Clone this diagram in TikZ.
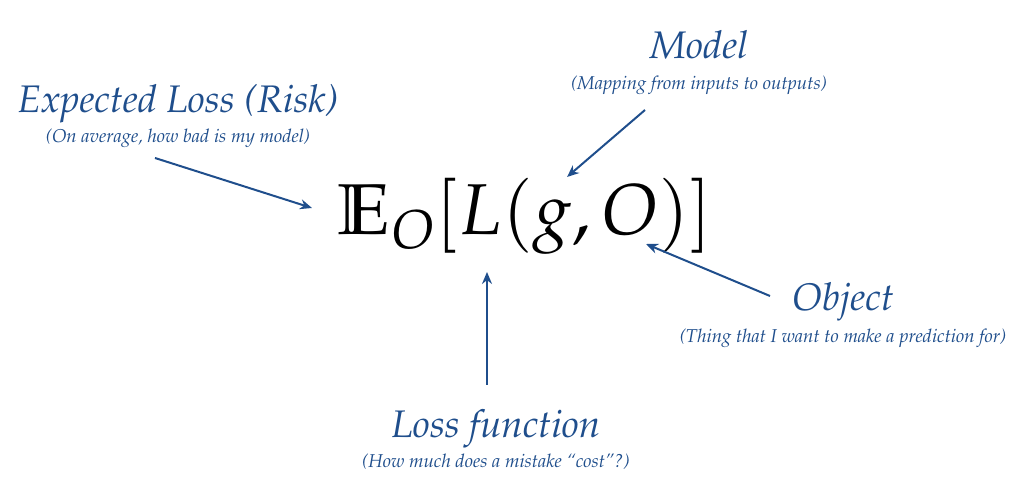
\documentclass[tikz,border=0pt]{standalone}
\usepackage[T1]{fontenc}
\usepackage{amsmath,amssymb}
\usepackage{mathpazo}
\usepackage{tikz}
\usetikzlibrary{positioning,arrows.meta}
\definecolor{annot}{RGB}{31,78,140}

\begin{document}
\begin{tikzpicture}[
  x=0.5pt, y=0.5pt,
  >={Stealth[length=6pt,width=5pt]},
  head/.style={text=annot, anchor=base, inner sep=0pt, font=\fontsize{19.2}{22}\selectfont\itshape},
  note/.style={text=annot, anchor=base, inner sep=0pt, font=\fontsize{9.3}{11}\selectfont\itshape},
  arr/.style={->, draw=annot, line width=1pt}
]
  \useasboundingbox (0,0) rectangle (1024,486);

  % Formule
  \node[anchor=base, inner sep=0pt, font=\fontsize{36}{40}\selectfont] (F) at (525,251) {$\mathbb{E}_O[L(g,O)]$};

  % Annotations
  \node[head] (EL) at (178,373) {Expected Loss (Risk)};
  \node[note] (ELn) at (178,343) {(On average, how bad is my model)};
  \node[head] (M) at (699,427) {Model};
  \node[note] (Mn) at (699,396) {(Mapping from inputs to outputs)};
  \node[head] (Ob) at (843,175) {Object};
  \node[note] (Obn) at (843,143) {(Thing that I want to make a prediction for)};
  \node[head] (LF) at (496,48) {Loss function};
  \node[note] (LFn) at (496,18) {(How much does a mistake ``cost''?)};

  % Fleches
  \coordinate (ELa) at (155,328);
  \coordinate (ELb) at (312,278);
  \coordinate (Ma) at (645,376);
  \coordinate (Mb) at (567,309);
  \coordinate (Oba) at (770,190);
  \coordinate (Obb) at (646,242);
  \coordinate (LFa) at (487,101);
  \coordinate (LFb) at (487,214);

  \draw[arr] (ELa) -- (ELb);
  \draw[arr] (Ma) -- (Mb);
  \draw[arr] (Oba) -- (Obb);
  \draw[arr] (LFa) -- (LFb);
\end{tikzpicture}
\end{document}
